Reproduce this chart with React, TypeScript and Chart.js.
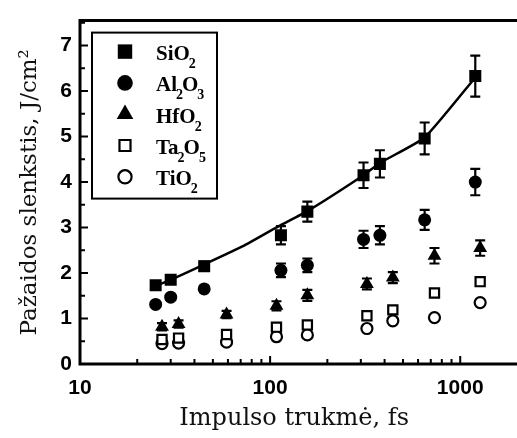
import { useEffect, useRef } from "react";
import { Chart, registerables } from "chart.js";
import { drawPoint } from "chart.js/helpers";

Chart.register(...registerables);

// Pulse duration (fs) and damage threshold (J/cm²) for each coating
const sio2Dur = [25, 30, 45, 114, 157, 310, 378, 650, 1200];
const sio2Thr = [1.73, 1.85, 2.15, 2.83, 3.35, 4.15, 4.4, 4.96, 6.33];
const sio2Err = [0.08, 0.08, 0.1, 0.2, 0.22, 0.28, 0.3, 0.35, 0.45];

const al2o3Dur = [25, 30, 45, 114, 157, 310, 378, 650, 1200];
const al2o3Thr = [1.31, 1.47, 1.65, 2.06, 2.17, 2.74, 2.83, 3.17, 4.0];
const al2o3Err = [0.05, 0.05, 0.06, 0.15, 0.15, 0.19, 0.2, 0.22, 0.29];

const hfo2Dur = [27, 33, 59, 108, 157, 323, 442, 732, 1273];
const hfo2Thr = [0.82, 0.88, 1.09, 1.28, 1.51, 1.76, 1.9, 2.38, 2.55];
const hfo2Err = [0.08, 0.08, 0.08, 0.1, 0.12, 0.12, 0.12, 0.17, 0.17];

const ta2o5Dur = [27, 33, 59, 108, 157, 323, 442, 732, 1273];
const ta2o5Thr = [0.54, 0.57, 0.65, 0.81, 0.86, 1.06, 1.19, 1.56, 1.81];

const tio2Dur = [27, 33, 59, 108, 157, 323, 442, 732, 1273];
const tio2Thr = [0.45, 0.46, 0.48, 0.6, 0.64, 0.78, 0.95, 1.02, 1.35];

// Trend curve through the SiO2 thresholds
const fitDur = [25, 30, 44, 72, 111, 157, 310, 378, 650, 1200];
const fitThr = [1.72, 1.85, 2.17, 2.59, 3.03, 3.36, 4.15, 4.42, 4.98, 6.3];

// Axis ticks
const xMajorTicks = [10, 100, 1000];
const yMajorTicks = [0, 1, 2, 3, 4, 5, 6, 7];

const seriesNames = ["SiO2", "Al2O3", "HfO2", "Ta2O5", "TiO2"];

const pts = (xs: number[], ys: number[]) => xs.map((x, i) => ({ x, y: ys[i] }));

const xAllTicks: { value: number; major: boolean }[] = [];
xMajorTicks.forEach((d) => {
  xAllTicks.push({ value: d, major: true });
  if (d < 1000) for (let k = 2; k <= 9; k++) xAllTicks.push({ value: d * k, major: false });
});
const yAllTicks: { value: number; major: boolean }[] = [];
yMajorTicks.forEach((v) => {
  yAllTicks.push({ value: v, major: true });
  yAllTicks.push({ value: v + 0.5, major: false });
});

const frameAndTicks = {
  id: "frameAndTicks",
  afterDraw(chart: any) {
    const { ctx, chartArea: a, scales } = chart;
    ctx.save();
    ctx.strokeStyle = "#000";
    ctx.lineWidth = 3;
    ctx.beginPath();
    ctx.moveTo(chart.width + 2, a.top);
    ctx.lineTo(a.left, a.top);
    ctx.lineTo(a.left, a.bottom);
    ctx.lineTo(chart.width + 2, a.bottom);
    ctx.stroke();
    ctx.lineWidth = 2;
    ctx.beginPath();
    scales.x.ticks.forEach((t: any) => {
      const px = scales.x.getPixelForValue(t.value);
      const len = xMajorTicks.includes(t.value) ? 8 : 5;
      ctx.moveTo(px, a.bottom);
      ctx.lineTo(px, a.bottom - len);
    });
    scales.y.ticks.forEach((t: any) => {
      const py = scales.y.getPixelForValue(t.value);
      const len = Number.isInteger(t.value) ? 8 : 5;
      ctx.moveTo(a.left, py);
      ctx.lineTo(a.left + len, py);
    });
    ctx.stroke();
    ctx.restore();
  },
};

const errorBars = {
  id: "errorBars",
  beforeDatasetsDraw(chart: any) {
    const { ctx, scales } = chart;
    ctx.save();
    ctx.strokeStyle = "#000";
    ctx.lineWidth = 2.2;
    chart.data.datasets.forEach((ds: any) => {
      if (!ds.errorBars) return;
      ds.data.forEach((p: any, i: number) => {
        const e = ds.errorBars[i];
        const px = scales.x.getPixelForValue(p.x);
        const top = scales.y.getPixelForValue(p.y + e);
        const bot = scales.y.getPixelForValue(p.y - e);
        ctx.beginPath();
        ctx.moveTo(px, top);
        ctx.lineTo(px, bot);
        ctx.moveTo(px - 5, top);
        ctx.lineTo(px + 5, top);
        ctx.moveTo(px - 5, bot);
        ctx.lineTo(px + 5, bot);
        ctx.stroke();
      });
    });
    ctx.restore();
  },
};

const boxLegend = {
  id: "boxLegend",
  afterDraw(chart: any) {
    const { ctx, chartArea: a } = chart;
    const bx = a.left + 12;
    const by = a.top + 12;
    ctx.save();
    ctx.lineWidth = 2;
    ctx.strokeStyle = "#000";
    ctx.fillStyle = "#fff";
    ctx.fillRect(bx, by, 125, 166);
    ctx.strokeRect(bx, by, 125, 166);
    const entries = chart.data.datasets.filter((d: any) => seriesNames.includes(d.label));
    entries.forEach((ds: any, i: number) => {
      const cy = by + 19 + i * 31.3;
      const cx = bx + 33;
      ctx.fillStyle = ds.backgroundColor;
      ctx.strokeStyle = ds.borderColor;
      ctx.lineWidth = ds.borderWidth;
      drawPoint(ctx, { pointStyle: ds.pointStyle, radius: ds.pointRadius * 1.2, rotation: 0, borderWidth: ds.borderWidth }, cx, cy);
      // label with subscript digits
      let tx = bx + 64;
      const base = cy + 8.5;
      ctx.fillStyle = "#000";
      ctx.textBaseline = "alphabetic";
      ctx.textAlign = "left";
      const runs = ds.label.match(/\d+|\D+/g) || [];
      runs.forEach((r: string) => {
        const sub = /\d/.test(r);
        ctx.font = sub ? 'bold 14px "Liberation Serif"' : 'bold 21px "Liberation Serif"';
        ctx.fillText(r, sub ? tx - 1 : tx, sub ? base + 8 : base);
        tx += ctx.measureText(r).width - (sub ? 2 : 0);
      });
    });
    ctx.restore();
  },
};

export default function App() {
  const ref = useRef<HTMLCanvasElement | null>(null);

  useEffect(() => {
    if (!ref.current) return;
    const tickFont = { family: '"Liberation Sans", Arial, sans-serif', size: 21, weight: "bold" as const };
    const titleFont = { family: '"DejaVu Serif", serif', size: 23 };
    const chart = new Chart(ref.current, {
      type: "scatter",
      data: {
        datasets: [
          { label: "SiO2", data: pts(sio2Dur, sio2Thr), pointStyle: "rect", pointRadius: 8.5, backgroundColor: "#000", borderColor: "#000", borderWidth: 0, errorBars: sio2Err } as any,
          { label: "Al2O3", data: pts(al2o3Dur, al2o3Thr), pointStyle: "circle", pointRadius: 6.5, backgroundColor: "#000", borderColor: "#000", borderWidth: 0, errorBars: al2o3Err } as any,
          { label: "HfO2", data: pts(hfo2Dur, hfo2Thr), pointStyle: "triangle", pointRadius: 8, backgroundColor: "#000", borderColor: "#000", borderWidth: 0, errorBars: hfo2Err } as any,
          { label: "Ta2O5", data: pts(ta2o5Dur, ta2o5Thr), pointStyle: "rect", pointRadius: 6.5, backgroundColor: "#fff", borderColor: "#000", borderWidth: 2.2 } as any,
          { label: "TiO2", data: pts(tio2Dur, tio2Thr), pointStyle: "circle", pointRadius: 5.5, backgroundColor: "#fff", borderColor: "#000", borderWidth: 2.2 } as any,
          {
            label: "fit",
            type: "line",
            data: pts(fitDur, fitThr),
            showLine: true,
            pointRadius: 0,
            borderColor: "#000",
            borderWidth: 2.5,
            tension: 0.15,
            fill: false,
          } as any,
        ],
      },
      options: {
        animation: false,
        responsive: false,
        devicePixelRatio: 1,
        layout: { padding: { top: 2, right: 0, left: 0, bottom: 0 } },
        plugins: { legend: { display: false }, tooltip: { enabled: false } },
        scales: {
          x: {
            type: "logarithmic",
            min: 10,
            max: 1790,
            grid: { display: false, drawTicks: false },
            border: { display: false },
            afterBuildTicks: (s: any) => {
              s.ticks = xAllTicks.map((t) => ({ value: t.value }));
            },
            afterFit: (s: any) => {
              s.height = 74;
            },
            ticks: {
              autoSkip: false,
              maxRotation: 0,
              padding: 12,
              color: "#000",
              font: tickFont,
              callback: (v: any) => (xMajorTicks.includes(Number(v)) ? String(v) : ""),
            },
            title: { display: true, text: "Impulso trukmė, fs", color: "#111", font: { ...titleFont, size: 24 }, padding: { top: 0, bottom: 5 } },
          },
          y: {
            type: "linear",
            min: 0,
            max: 7.55,
            grid: { display: false, drawTicks: false },
            border: { display: false },
            afterBuildTicks: (s: any) => {
              s.ticks = yAllTicks.map((t) => ({ value: t.value }));
            },
            afterFit: (s: any) => {
              s.width = 80;
            },
            ticks: {
              autoSkip: false,
              padding: 8,
              color: "#000",
              font: tickFont,
              callback: (v: any) => (yMajorTicks.includes(Number(v)) ? String(v) : ""),
            },
            title: { display: true, text: "Pažaidos slenkstis, J/cm²", color: "#111", font: titleFont, padding: { top: 16, bottom: 0 } },
          },
        },
      },
      plugins: [errorBars, frameAndTicks, boxLegend],
    });
    return () => chart.destroy();
  }, []);

  return (
    <div style={{ position: "absolute", left: 0, top: 0, width: 517, height: 438, background: "#fff" }}>
      <canvas ref={ref} width={517} height={438} />
    </div>
  );
}
